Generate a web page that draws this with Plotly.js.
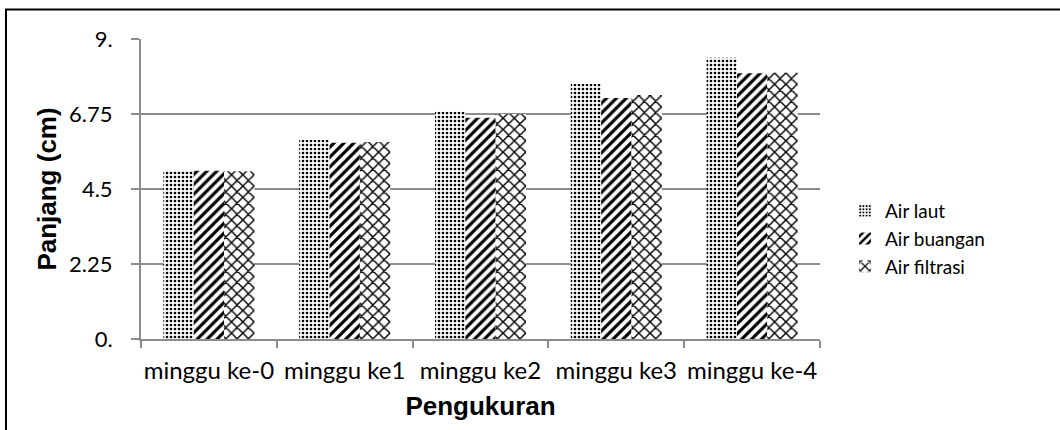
<!DOCTYPE html>
<html>
<head>
<meta charset="utf-8">
<script src="https://cdn.plot.ly/plotly-3.0.1.min.js"></script>
<style>
html,body{margin:0;padding:0;background:#fff;overflow:hidden;}
#chart{width:1060px;height:430px;}
</style>
</head>
<body>
<div id="chart"></div>
<script>
const categories = ["minggu ke-0", "minggu ke1", "minggu ke2", "minggu ke3", "minggu ke-4"];
const airLaut = [5.05, 5.97, 6.82, 7.65, 8.44];
const airBuangan = [5.05, 5.89, 6.64, 7.23, 7.97];
const airFiltrasi = [5.03, 5.91, 6.75, 7.32, 7.99];
const seriesNames = ["Air laut", "Air buangan", "Air filtrasi"];
const yTickVals = [0, 2.25, 4.5, 6.75, 9];
const yTickText = ["0.", "2.25", "4.5", "6.75", "9."];

function barTrace(name, values, shape, size, solidity) {
  return {
    type: "bar",
    name: name,
    x: categories,
    y: values,
    marker: {
      color: "white",
      line: {width: 0},
      pattern: {shape: shape, fgcolor: "black", bgcolor: "white", size: size, solidity: solidity, fillmode: "replace"}
    }
  };
}

const data = [
  barTrace(seriesNames[0], airLaut, ".", 4, 0.35),
  barTrace(seriesNames[1], airBuangan, "/", 7, 0.45),
  barTrace(seriesNames[2], airFiltrasi, "x", 8, 0.33)
];

const B = {x0: 141, x1: 820, y0: 39, y1: 339};
const pw = B.x1 - B.x0, ph = B.y1 - B.y0;
const px = v => (v - B.x0) / pw;
const py = v => (B.y1 - v) / ph;

const layout = {
  width: 1060,
  height: 430,
  margin: {l: B.x0, r: 1060 - B.x1, t: B.y0, b: 430 - B.y1, pad: 0},
  paper_bgcolor: "white",
  plot_bgcolor: "white",
  barmode: "group",
  bargap: 0.33,
  bargroupgap: 0,
  showlegend: true,
  legend: {
    x: px(845), y: py(239), xanchor: "left", yanchor: "middle",
    font: {family: "Lato, sans-serif", size: 19, color: "black"},
    tracegroupgap: 0, itemwidth: 30
  },
  xaxis: {
    type: "category",
    showgrid: false,
    showline: true, linecolor: "#8c8c8c", linewidth: 2,
    ticks: "outside", tickson: "boundaries", ticklen: 7, tickcolor: "#8c8c8c", tickwidth: 2,
    tickangle: 0,
    tickfont: {family: "Lato, sans-serif", size: 24, color: "black"},
    ticklabelstandoff: 9,
    title: {text: "Pengukuran", font: {family: "Liberation Sans, Arial, sans-serif", size: 26, color: "black", weight: "bold"}, standoff: 14},
    automargin: false
  },
  yaxis: {
    range: [0, 9],
    tickvals: yTickVals, ticktext: yTickText,
    showgrid: true, gridcolor: "#8c8c8c", gridwidth: 2,
    zeroline: false,
    showline: true, linecolor: "#8c8c8c", linewidth: 2,
    ticks: "outside", ticklen: 8, tickcolor: "#8c8c8c", tickwidth: 2,
    tickfont: {family: "Lato, sans-serif", size: 22, color: "black"},
    ticklabelstandoff: 14,
    title: {text: "Panjang (cm)", font: {family: "Liberation Sans, Arial, sans-serif", size: 26, color: "black", weight: "bold"}, standoff: 5},
    automargin: false
  },
  shapes: [{
    type: "path", xref: "paper", yref: "paper",
    path: "M " + px(6) + "," + py(445) + " L " + px(6) + "," + py(9.5) + " L " + px(1075) + "," + py(9.5),
    line: {color: "black", width: 2}
  }]
};

Plotly.newPlot("chart", data, layout, {displayModeBar: false, staticPlot: true});
</script>
</body>
</html>
